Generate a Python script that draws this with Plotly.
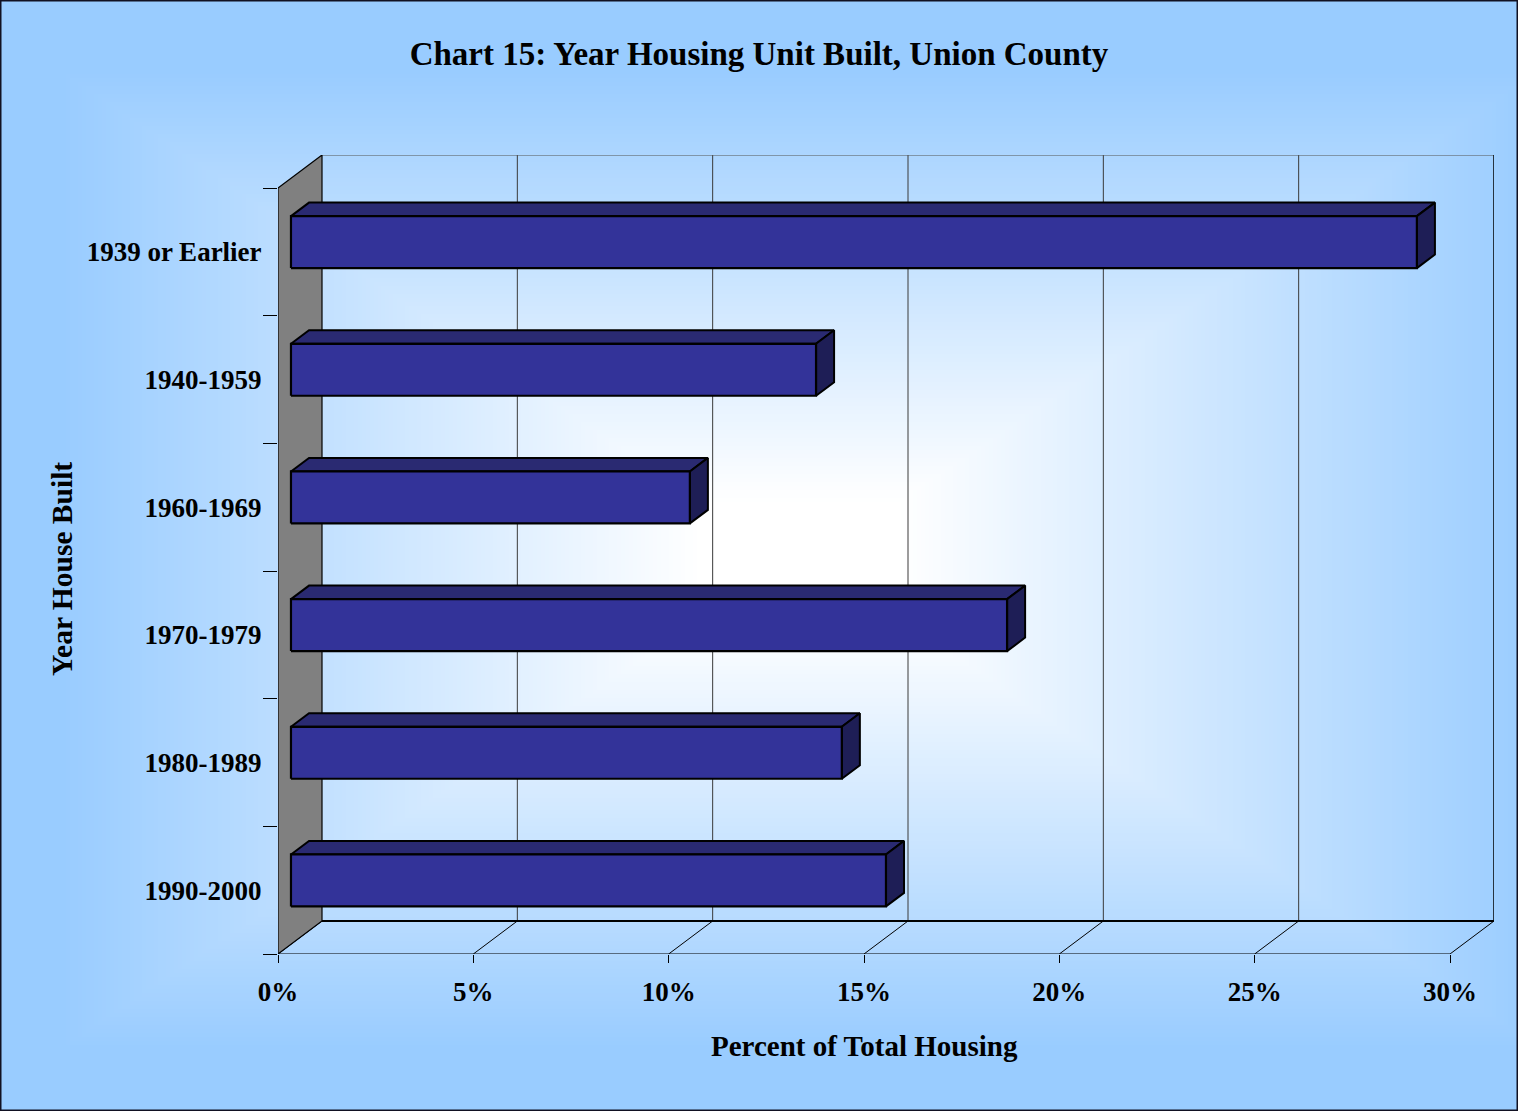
import base64
import struct
import zlib

import numpy as np
import plotly.graph_objects as go

# ---------------- data ----------------
categories = ["1939 or Earlier", "1940-1959", "1960-1969", "1970-1979", "1980-1989", "1990-2000"]
percent_values = [28.82, 13.44, 10.21, 18.33, 14.10, 15.23]
x_tick_values = [0, 5, 10, 15, 20, 25, 30]
x_tick_labels = ["0%", "5%", "10%", "15%", "20%", "25%", "30%"]

title_text = "Chart 15: Year Housing Unit Built, Union County"
x_title = "Percent of Total Housing"
y_title = "Year House Built"

# ---------------- styling / geometry ----------------
W, H = 1518, 1111
FONT = "Liberation Serif, Times New Roman, serif"
X_MAX = 30.0
DX = 44 / 39.067          # depth offset in x data units
DY = 33 / 127.67          # depth offset in y data units
N = len(categories)
F1, F2 = 0.295, 0.705     # bar depth (fraction of wall depth)
BAR_H = 0.407             # bar thickness in category units

FRONT = "#333399"
TOP = "#2A2A72"
SIDE = "#1E1E56"


def make_gradient_png(w, h):
    xs = (np.arange(w) + 0.5) * (W / w)
    ys = (np.arange(h) + 0.5) * (H / h)
    X, Y = np.meshgrid(xs, ys)
    tx = (np.abs(X - 800) - 100) / 640
    ty = (np.abs(Y - 560) - 60) / 430
    t = np.clip(np.maximum(tx, ty), 0, 1)
    blue = np.array([153, 204, 255], dtype=float)
    white = np.array([255, 255, 255], dtype=float)
    img = white[None, None, :] * (1 - t[..., None]) + blue[None, None, :] * t[..., None]
    img = np.clip(np.round(img), 0, 255).astype(np.uint8)
    raw = b"".join(b"\x00" + img[r].tobytes() for r in range(h))

    def chunk(tag, data):
        c = struct.pack(">I", len(data)) + tag + data
        return c + struct.pack(">I", zlib.crc32(tag + data) & 0xFFFFFFFF)

    png = b"\x89PNG\r\n\x1a\n"
    png += chunk(b"IHDR", struct.pack(">IIBBBBB", w, h, 8, 2, 0, 0, 0))
    png += chunk(b"IDAT", zlib.compress(raw, 9))
    png += chunk(b"IEND", b"")
    return "data:image/png;base64," + base64.b64encode(png).decode()


fig = go.Figure()


def add_line(xs, ys, color="black", width=1.0):
    fig.add_trace(go.Scatter(x=xs, y=ys, mode="lines", line=dict(color=color, width=width),
                             hoverinfo="skip", showlegend=False, cliponaxis=False))


def add_poly(xs, ys, fill, width=1.5):
    fig.add_trace(go.Scatter(x=xs + [xs[0]], y=ys + [ys[0]], mode="lines", fill="toself",
                             fillcolor=fill, line=dict(color="black", width=width),
                             hoverinfo="skip", showlegend=False, cliponaxis=False))


# back wall gridlines
for k in x_tick_values[1:-1]:
    add_line([k + DX, k + DX], [DY, N + DY], color="#3a3a3a", width=1)
# back wall top and right edges
add_line([DX, X_MAX + DX], [N + DY, N + DY], color="#555555", width=1)
add_line([X_MAX + DX, X_MAX + DX], [DY, N + DY], color="black", width=1.5)
# back wall bottom edge
add_line([DX, X_MAX + DX], [DY, DY], color="black", width=2)
# floor diagonals and front edge
for k in x_tick_values:
    add_line([k, k + DX], [0, DY], color="black", width=1)
add_line([0, X_MAX], [0, 0], color="black", width=1.2)
# left side wall
add_poly([0, DX, DX, 0], [0, DY, N + DY, N], "#808080", width=1.2)

# bars (3-D boxes)
for i, (cat, v) in enumerate(zip(categories, percent_values)):
    c = N - 0.5 - i
    y0f = c - BAR_H / 2 + F1 * DY
    y1f = c + BAR_H / 2 + F1 * DY
    y0b = c - BAR_H / 2 + F2 * DY
    y1b = c + BAR_H / 2 + F2 * DY
    x0f, x1f = F1 * DX, v + F1 * DX
    x0b, x1b = F2 * DX, v + F2 * DX
    add_poly([x0f, x1f, x1b, x0b], [y1f, y1f, y1b, y1b], TOP, width=2)
    add_poly([x1f, x1f, x1b, x1b], [y0f, y1f, y1b, y0b], SIDE, width=2)
    add_poly([x0f, x1f, x1f, x0f], [y0f, y0f, y1f, y1f], FRONT, width=2.2)

fig.update_layout(
    width=W, height=H,
    margin=dict(l=0, r=0, t=0, b=0, autoexpand=False),
    paper_bgcolor="#99CCFF",
    plot_bgcolor="rgba(0,0,0,0)",
    hovermode=False,
    title=dict(text=title_text, x=0.5, xanchor="center", y=1 - 53 / H, yanchor="middle",
               font=dict(family=FONT, size=33, color="black", weight="bold")),
    xaxis=dict(domain=[278 / W, 1494 / W], range=[0, X_MAX + DX], automargin=False,
               showgrid=False, zeroline=False, showline=False, fixedrange=True,
               tickmode="array", tickvals=x_tick_values, ticktext=x_tick_labels,
               ticks="outside", ticklen=8, tickwidth=1, tickcolor="black",
               ticklabelstandoff=6,
               tickfont=dict(family=FONT, size=27, color="black", weight="bold")),
    yaxis=dict(domain=[(H - 954) / H, (H - 155) / H], range=[0, N + DY], automargin=False,
               showgrid=False, zeroline=False, showline=False, fixedrange=True,
               tickmode="array", tickvals=[N - 0.5 - i for i in range(N)], ticktext=categories,
               ticks="outside", ticklen=10, tickcolor="rgba(0,0,0,0)",
               tickfont=dict(family=FONT, size=27, color="black", weight="bold"),
               minor=dict(tickmode="array", tickvals=list(range(N + 1)), ticks="outside",
                          ticklen=14, tickwidth=1, tickcolor="black")),
    images=[dict(source=make_gradient_png(380, 278), xref="paper", yref="paper",
                 x=0, y=1, sizex=1, sizey=1, xanchor="left", yanchor="top",
                 sizing="stretch", layer="below")],
    annotations=[
        dict(text=x_title, xref="paper", yref="paper", x=864 / W, y=1 - 1046 / H,
             xanchor="center", yanchor="middle", showarrow=False,
             font=dict(family=FONT, size=29, color="black", weight="bold")),
        dict(text=y_title, xref="paper", yref="paper", x=62 / W, y=1 - 569 / H,
             xanchor="center", yanchor="middle", showarrow=False, textangle=-90,
             font=dict(family=FONT, size=29.5, color="black", weight="bold")),
    ],
    shapes=[dict(type="rect", xref="paper", yref="paper", x0=0, y0=0, x1=1, y1=1,
                 line=dict(color="#111122", width=3), fillcolor="rgba(0,0,0,0)")],
)

fig.write_html("out.html", config={"displayModeBar": False},
               post_script="document.body.style.margin='0';document.body.style.overflow='hidden';")
